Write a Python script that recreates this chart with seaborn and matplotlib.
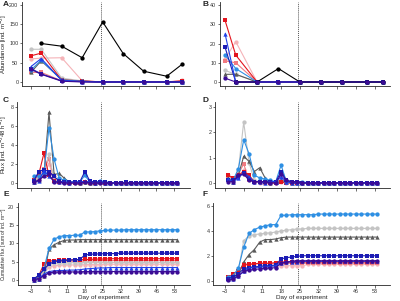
import numpy as np
import pandas as pd
import matplotlib
matplotlib.use("Agg")
import matplotlib.pyplot as plt
import seaborn as sns

sns.set_theme(style="ticks")
plt.rcParams['font.family'] = ['Liberation Sans', 'DejaVu Sans']

# sampling days
abund_days = [-3, 1, 9, 17, 25, 33, 41, 50, 56]
flux_days = [-2, 0, 2, 4, 6, 8, 10, 12, 14, 16, 18, 20, 22, 24, 26, 28,
             30, 32, 34, 36, 38, 40, 42, 44, 46, 48, 50, 52, 54]
x_ticks = [-3, 4, 11, 18, 25, 32, 39, 46, 53]
treatment_start = 24.5

nan = np.nan

# A: abundance, species 1
abund_A = {
    "lightpink": [60, 62, 63, 3, 0, 0, 0, 0, 4],
    "salmon":    [25, 25, 3, 1, 0, 0, 0, 0, 1],
    "lightgray": [85, 85, 10, 3, 0, 0, 0, 0, 0],
    "darkgray":  [25, 55, 6, 2, 0, 0, 0, 0, 0],
    "red":       [68, 75, 5, 3, 0, 0, 0, 0, 3],
    "skyblue":   [31, 57, 5, 2, 0, 0, 0, 0, 0],
    "navy":      [35, 21, 3, 1, 0, 0, 0, 0, 0],
    "blue":      [40, 61, 4, 1, 0, 0, 0, 0, 0],
    "black":     [nan, 100, 93, 63, 156, 74, 28, 15, 46],
    "purple":    [33, 20, 2, 0, 0, 0, 0, 0, 0],
}

# B: abundance, species 2
abund_B = {
    "lightpink": [12, 21, 0, 0, 0, 0, 0, 0, 0],
    "salmon":    [11, 10, 0, 0, 0, 0, 0, 0, 0],
    "lightgray": [6, 4, 0, 0, 0, 0, 0, 0, 0],
    "darkgray":  [4, 4, 0, 0, 0, 0, 0, 0, 0],
    "red":       [32, 14, 0, 0, 0, 0, 0, 0, 0],
    "skyblue":   [14, 7, 0, 0, 0, 0, 0, 0, 0],
    "navy":      [18, 0, 0, 0, 0, 0, 0, 0, 0],
    "blue":      [25, 0, 0, 0, 0, 0, 0, 0, 0],
    "black":     [nan, 0, 0, 7, 0, 0, 0, 0, 0],
    "purple":    [2, 0, 0, 0, 0, 0, 0, 0, 0],
}

# C: flux, species 1
flux_C = {
    "lightpink": [0.2, 0.4, 1.0, 2.0, 0.3, 0.1, 0.1, 0, 0, 0, 0.1, 0, 0, 0, 0,
                  0, 0, 0, 0, 0, 0, 0, 0, 0, 0, 0, 0, 0, 0],
    "salmon":    [0.2, 0.6, 1.5, 2.5, 0.4, 0.1, 0.1, 0, 0, 0, 0.1, 0, 0, 0.1, 0,
                  0, 0, 0, 0, 0, 0, 0, 0, 0, 0, 0, 0, 0, 0],
    "lightgray": [0.3, 0.6, 1.2, 3.0, 0.3, 0.2, 0.1, 0, 0, 0, 0.1, 0, 0, 0, 0,
                  0, 0, 0, 0, 0, 0, 0, 0, 0, 0, 0, 0, 0, 0],
    "darkgray":  [0.1, 0.3, 0.8, 7.4, 0.9, 1.0, 0.5, 0.1, 0.1, 0, 0.1, 0, 0, 0.1, 0,
                  0, 0, 0, 0, 0, 0, 0, 0, 0, 0, 0, 0, 0, 0],
    "red":       [0.3, 0.9, 3.1, 0.8, 0.2, 0.1, 0.1, 0, 0, 0, 0.1, 0, 0, 0.1, 0,
                  0, 0, 0, 0, 0, 0, 0, 0, 0, 0, 0, 0, 0, 0],
    "skyblue":   [0.7, 0.7, 1.0, 5.8, 2.5, 0.5, 0.3, 0.1, 0.1, 0.1, 0.8, 0.1, 0.1, 0.2, 0.1,
                  0, 0, 0, 0, 0, 0, 0, 0, 0, 0, 0, 0, 0, 0],
    "navy":      [0.2, 1.2, 1.4, 1.2, 0.7, 0.2, 0.1, 0.1, 0.1, 0.1, 1.2, 0.2, 0.1, 0.1, 0.1,
                  0, 0, 0, 0.1, 0, 0, 0, 0, 0, 0, 0, 0, 0, 0],
    "blue":      [0.1, 0.2, 1.3, 0.7, 0.2, 0.1, 0.1, 0, 0.1, 0.1, 0.2, 0.1, 0, 0.1, 0,
                  0, 0, 0, 0, 0, 0, 0, 0, 0, 0, 0, 0, 0, 0],
    "purple":    [0.1, 0.3, 0.7, 0.9, 0.1, 0.1, 0, 0, 0, 0, 0.1, 0, 0, 0, 0,
                  0, 0, 0, 0, 0, 0, 0, 0, 0, 0, 0, 0, 0, 0],
}

# D: flux, species 2
flux_D = {
    "lightpink": [0.2, 0.1, 0.3, 0.5, 0.15, 0.05, 0, 0, 0, 0, 0.05, 0, 0, 0, 0,
                  0, 0, 0, 0, 0, 0, 0, 0, 0, 0, 0, 0, 0, 0],
    "salmon":    [0.25, 0.1, 0.35, 0.75, 0.1, 0.05, 0.05, 0, 0, 0, 0.05, 0, 0, 0, 0,
                  0, 0, 0, 0, 0, 0, 0, 0, 0, 0, 0, 0, 0, 0],
    "lightgray": [0.3, 0.1, 0.5, 2.4, 0.8, 0.1, 0.05, 0.05, 0.05, 0.05, 0.1, 0.05, 0.05, 0.05, 0,
                  0, 0, 0, 0, 0, 0, 0, 0, 0, 0, 0, 0, 0, 0],
    "darkgray":  [0.2, 0.05, 0.3, 1.05, 0.85, 0.45, 0.6, 0.2, 0, 0.05, 0.1, 0.05, 0, 0, 0,
                  0, 0, 0, 0, 0, 0, 0, 0, 0, 0, 0, 0, 0, 0],
    "red":       [0.3, 0.2, 0.3, 0.45, 0.3, 0.05, 0.05, 0.05, 0, 0, 0.05, 0, 0, 0, 0,
                  0, 0, 0, 0, 0, 0, 0, 0, 0, 0, 0, 0, 0, 0],
    "skyblue":   [0.1, 0.1, 0.55, 1.7, 1.15, 0.3, 0.2, 0.15, 0.1, 0.05, 0.7, 0.05, 0.05, 0.05, 0.05,
                  0, 0, 0, 0, 0, 0, 0, 0, 0, 0, 0, 0, 0, 0],
    "navy":      [0.1, 0.1, 0.25, 0.4, 0.15, 0.05, 0.05, 0.05, 0.05, 0.05, 0.45, 0.1, 0.05, 0.05, 0,
                  0, 0, 0, 0, 0, 0, 0, 0, 0, 0, 0, 0, 0, 0],
    "blue":      [0.15, 0.05, 0.2, 0.4, 0.25, 0.05, 0.05, 0, 0.05, 0.05, 0.25, 0.05, 0, 0, 0,
                  0, 0, 0, 0, 0, 0, 0, 0, 0, 0, 0, 0, 0, 0],
    "purple":    [0.05, 0.05, 0.3, 0.35, 0.1, 0.05, 0.05, 0.05, 0, 0, 0.35, 0.1, 0.05, 0.05, 0,
                  0, 0, 0, 0, 0, 0, 0, 0, 0, 0, 0, 0, 0, 0],
}

# E: cumulative flux, species 1
cum_E = {
    "lightpink": [0.2, 0.6, 1.6, 3.6, 3.9, 4.0, 4.1, 4.1, 4.1, 4.1, 4.2, 4.2, 4.2, 4.2, 4.3,
                  4.3, 4.3, 4.3, 4.3, 4.3, 4.3, 4.3, 4.3, 4.3, 4.3, 4.3, 4.3, 4.3, 4.3],
    "salmon":    [0.2, 0.8, 2.3, 4.5, 4.9, 5.0, 5.1, 5.1, 5.1, 5.1, 5.2, 5.2, 5.2, 5.3, 5.3,
                  5.3, 5.3, 5.3, 5.3, 5.3, 5.3, 5.3, 5.3, 5.3, 5.3, 5.3, 5.3, 5.3, 5.3],
    "lightgray": [0.3, 0.9, 2.1, 4.2, 4.5, 4.6, 4.7, 4.7, 4.7, 4.7, 4.8, 4.8, 4.8, 4.8, 4.8,
                  4.8, 4.8, 4.8, 4.8, 4.8, 4.8, 4.8, 4.8, 4.8, 4.8, 4.8, 4.8, 4.8, 4.8],
    "darkgray":  [0.1, 0.4, 1.2, 8.4, 9.6, 10.3, 10.8, 10.9, 10.9, 11.0, 11.0, 11.0, 11.0, 11.0, 11.0,
                  11.0, 11.0, 11.0, 11.0, 11.0, 11.0, 11.0, 11.0, 11.0, 11.0, 11.0, 11.0, 11.0, 11.0],
    "red":       [0.3, 1.2, 4.3, 5.1, 5.3, 5.4, 5.5, 5.5, 5.5, 5.5, 5.6, 5.6, 5.7, 5.7, 5.7,
                  5.8, 5.8, 5.8, 5.8, 5.8, 5.8, 5.8, 5.8, 5.8, 5.8, 5.8, 5.8, 5.8, 5.8],
    "skyblue":   [0.4, 1.1, 3.0, 8.6, 11.1, 11.8, 12.1, 12.1, 12.2, 12.2, 13.1, 13.1, 13.2, 13.4, 13.5,
                  13.6, 13.6, 13.6, 13.7, 13.7, 13.7, 13.7, 13.7, 13.7, 13.7, 13.7, 13.7, 13.7, 13.7],
    "navy":      [0.2, 1.3, 2.9, 4.3, 5.0, 5.2, 5.3, 5.4, 5.5, 5.6, 6.8, 7.0, 7.1, 7.1, 7.2,
                  7.2, 7.2, 7.3, 7.3, 7.3, 7.3, 7.3, 7.3, 7.3, 7.3, 7.3, 7.3, 7.3, 7.3],
    "blue":      [0.1, 0.3, 1.6, 2.3, 2.5, 2.6, 2.6, 2.7, 2.7, 2.8, 3.0, 3.1, 3.2, 3.3, 3.3,
                  3.4, 3.4, 3.4, 3.4, 3.4, 3.4, 3.4, 3.4, 3.4, 3.4, 3.4, 3.4, 3.4, 3.4],
    "purple":    [0.1, 0.4, 1.1, 2.0, 2.1, 2.2, 2.2, 2.2, 2.2, 2.2, 2.3, 2.3, 2.3, 2.3, 2.3,
                  2.3, 2.3, 2.3, 2.3, 2.3, 2.3, 2.3, 2.3, 2.3, 2.3, 2.3, 2.3, 2.3, 2.3],
}

# F: cumulative flux, species 2
cum_F = {
    "lightpink": [0.15, 0.25, 0.5, 1.0, 1.1, 1.15, 1.15, 1.15, 1.15, 1.15, 1.2, 1.2, 1.2, 1.2, 1.2,
                  1.3, 1.3, 1.3, 1.3, 1.3, 1.3, 1.3, 1.3, 1.3, 1.3, 1.3, 1.3, 1.3, 1.3],
    "salmon":    [0.2, 0.3, 0.6, 1.3, 1.35, 1.35, 1.35, 1.35, 1.35, 1.35, 1.4, 1.4, 1.4, 1.4, 1.4,
                  1.4, 1.4, 1.4, 1.4, 1.4, 1.4, 1.4, 1.4, 1.4, 1.4, 1.4, 1.4, 1.4, 1.4],
    "lightgray": [0.2, 0.3, 0.8, 3.2, 3.6, 3.7, 3.75, 3.8, 3.85, 3.9, 4.0, 4.05, 4.1, 4.15, 4.15,
                  4.2, 4.2, 4.2, 4.2, 4.2, 4.2, 4.2, 4.2, 4.2, 4.2, 4.2, 4.2, 4.2, 4.2],
    "darkgray":  [0.2, 0.25, 0.5, 1.5, 2.1, 2.5, 3.1, 3.3, 3.3, 3.35, 3.45, 3.5, 3.5, 3.5, 3.5,
                  3.5, 3.5, 3.5, 3.5, 3.5, 3.5, 3.5, 3.5, 3.5, 3.5, 3.5, 3.5, 3.5, 3.5],
    "red":       [0.3, 0.5, 0.8, 1.25, 1.3, 1.35, 1.4, 1.4, 1.4, 1.45, 1.5, 1.5, 1.5, 1.5, 1.5,
                  1.5, 1.5, 1.5, 1.5, 1.5, 1.5, 1.5, 1.5, 1.5, 1.5, 1.5, 1.5, 1.5, 1.5],
    "skyblue":   [0.3, 0.4, 1.0, 2.7, 3.8, 4.1, 4.3, 4.4, 4.5, 4.5, 5.25, 5.25, 5.3, 5.3, 5.3,
                  5.3, 5.3, 5.35, 5.35, 5.35, 5.35, 5.35, 5.35, 5.35, 5.35, 5.35, 5.35, 5.35, 5.35],
    "navy":      [0.15, 0.3, 0.55, 0.95, 1.05, 1.1, 1.15, 1.2, 1.2, 1.25, 1.75, 1.85, 1.9, 1.95, 2.0,
                  2.0, 2.0, 2.0, 2.0, 2.0, 2.0, 2.0, 2.0, 2.0, 2.0, 2.0, 2.0, 2.0, 2.0],
    "blue":      [0.1, 0.15, 0.35, 0.75, 1.0, 1.05, 1.1, 1.1, 1.15, 1.2, 1.45, 1.5, 1.5, 1.5, 1.55,
                  1.55, 1.55, 1.55, 1.55, 1.55, 1.55, 1.55, 1.55, 1.55, 1.55, 1.55, 1.55, 1.55, 1.55],
    "purple":    [0.05, 0.1, 0.4, 0.75, 0.85, 0.9, 0.95, 1.0, 1.0, 1.05, 1.4, 1.5, 1.55, 1.6, 1.6,
                  1.6, 1.6, 1.6, 1.6, 1.6, 1.6, 1.6, 1.6, 1.6, 1.6, 1.6, 1.6, 1.6, 1.6],
}

ORDER = ["lightpink", "salmon", "lightgray", "darkgray", "red",
         "skyblue", "navy", "blue", "black", "purple"]
COLORS = {"lightpink": "#f5b3b8", "salmon": "#f07a80", "lightgray": "#c4c4c4",
          "darkgray": "#5a5a5a", "red": "#e3141e", "skyblue": "#2e8fe3",
          "navy": "#1c1cb4", "blue": "#2040e6", "black": "#000000",
          "purple": "#3b0b95"}
MARKERS = {"lightpink": "o", "salmon": "s", "lightgray": "o", "darkgray": "^",
           "red": "s", "skyblue": "o", "navy": "s", "blue": "^", "black": "o",
           "purple": "o"}

W, H = 400, 301
fig = plt.figure(figsize=(W / 100, H / 100), dpi=100)


def px_axes(left, top, right, bottom):
    return fig.add_axes([left / W, 1 - bottom / H, (right - left) / W, (bottom - top) / H])


# (label, label pos px, days, data, rect px, xlim, ylim, yticks,
#  ylabel, ylabel right px, ylabel size, show x labels)
panels = [
    ("A", (3, 5), abund_days, abund_A, (22, 2, 190, 86), (-6.5, 59.1), (-10.4, 207.8),
     [0, 50, 100, 150, 200], "Abundance [ind. m$^{-2}$]", 9.3, 4.3, False),
    ("B", (203, 5), abund_days, abund_B, (220, 2, 390, 86), (-4.9, 58.8), (-2.08, 41.6),
     [0, 10, 20, 30, 40], None, None, None, False),
    ("C", (3, 101), flux_days, flux_C, (17, 102, 190, 188), (-8.5, 59.1), (-0.52, 8.49),
     [0, 2, 4, 6, 8], "Flux [ind. m$^{-2}$48 h$^{-1}$]", 9.5, 4.3, False),
    ("D", (203, 101), flux_days, flux_D, (215, 102, 390, 188), (-6.75, 58.8), (-0.2, 3.19),
     [0, 1, 2, 3], None, None, None, False),
    ("E", (3, 195), flux_days, cum_E, (18, 203, 190, 285), (-8.1, 59.1), (-1.36, 20.98),
     [0, 5, 10, 15, 20], "Cumulative flux [sum of ind. m$^{-2}$]", 9.0, 3.5, True),
    ("F", (203, 195), flux_days, cum_F, (213, 203, 390, 285), (-7.5, 58.8), (-0.35, 6.24),
     [0, 2, 4, 6], None, None, None, True),
]

for (label, lab_pos, days, data, rect, xlim, ylim, yticks,
     ylabel, ylab_x, ylab_size, show_x) in panels:
    ax = px_axes(*rect)
    df = pd.DataFrame({"day": days, **data}).melt(id_vars="day", var_name="series",
                                                  value_name="value")
    order = [s for s in ORDER if s in data]
    sns.lineplot(data=df, x="day", y="value", hue="series", style="series",
                 hue_order=order, style_order=order, palette=COLORS,
                 markers=MARKERS, dashes=False, markersize=3.1,
                 markeredgewidth=0, linewidth=0.8, legend=False, ax=ax)
    ax.axvline(treatment_start, color="#555555", lw=0.7, ls=(0, (1, 1)), zorder=0)
    ax.set_xlim(*xlim)
    ax.set_ylim(*ylim)
    ax.set_xticks(x_ticks)
    ax.set_yticks(yticks)
    for side in ["top", "right"]:
        ax.spines[side].set_visible(False)
    for side in ["left", "bottom"]:
        ax.spines[side].set_linewidth(0.6)
    ax.tick_params(length=1.8, width=0.5, labelsize=3.9, pad=0.8, colors="#333333")
    ax.tick_params(labelbottom=show_x)
    ax.set_xlabel("Day of experiment" if show_x else "", fontsize=4.6, labelpad=1)
    if ylabel:
        ax.set_ylabel(ylabel, fontsize=ylab_size)
        ax.yaxis.set_label_coords((ylab_x - rect[0]) / (rect[2] - rect[0]), 0.5)
    else:
        ax.set_ylabel("")
    fig.text(lab_pos[0] / W, 1 - lab_pos[1] / H, label, fontsize=6, fontweight="bold",
             va="center", ha="left")

fig.savefig("out.png", dpi=100)
